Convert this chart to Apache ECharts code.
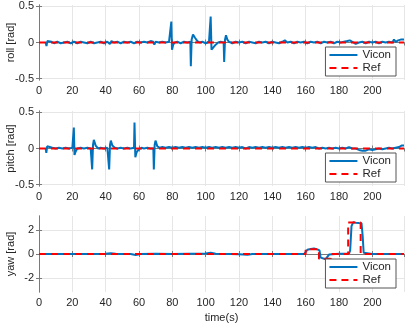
<!DOCTYPE html>
<html>
<head>
<meta charset="utf-8">
<script src="https://cdn.jsdelivr.net/npm/echarts@6/dist/echarts.min.js"></script>
<style>
  html, body { margin: 0; padding: 0; background: #fff; }
  #chart { width: 407px; height: 326px; }
</style>
</head>
<body>
<div id="chart"></div>
<script>
// time axis
const tMax = 219;
const xTicks = 20;

// roll [rad]
const rollVicon = [
  [4,0],[4.5,-0.05],[5,0.02],[6,0.0],[7.5,0.01],[9,-0.01],[11,0.01],[13,-0.01],[15,0.0],[17,0.01],
  [19,-0.01],[21,0.01],[23,-0.01],[25,0.01],[27,0.0],[29,-0.01],[31,0.01],[33,-0.01],[35,0.0],[37,0.01],
  [39,-0.01],[41,0.01],[42.5,-0.02],[43.5,0.02],[45,0.0],[47,0.01],[49,-0.01],[51,0.01],[53,0.0],[55,0.01],
  [57,-0.01],[59,0.01],[61,0.0],[63,0.01],[65,0.0],[67,0.02],[68.5,0.01],[69.2,-0.03],[70,0.01],[72,0.0],
  [74,0.01],[76,0.0],[78,0.01],[79.1,0.01],[79.4,0.29],[79.8,-0.1],[80.5,-0.03],[81.5,0.0],[83,0.01],[85,-0.01],
  [87,0.01],[89,0.0],[90.8,0.01],[91.1,-0.33],[91.6,0.04],[92.4,0.11],[93.5,0.07],[95,0.02],[96.5,0.0],[98,0.01],
  [100,-0.01],[102,0.01],[102.7,0.0],[103,0.36],[103.5,-0.1],[104.5,-0.07],[106,-0.03],[107.5,0.0],[109,0.01],[110.8,0.0],
  [111.1,-0.27],[111.6,0.04],[112.2,0.1],[113,0.04],[114,0.01],[116,-0.01],[118,0.01],[120,0.0],[122,0.01],[124,-0.01],
  [126,0.01],[128,0.0],[130,-0.01],[132,0.01],[134,0.0],[136,0.01],[138,-0.01],[140,0.01],[142,0.0],[144,-0.01],
  [146,0.01],[147.5,0.03],[149,0.0],[151,0.01],[153,-0.01],[155,0.01],[157,0.0],[159,0.01],[161,-0.01],[163,0.01],
  [165,0.0],[167,0.01],[169,-0.01],[171,0.01],[173,0.0],[175,0.01],[177,-0.01],[179,0.01],[181,0.0],[183,0.01],
  [185,0.02],[186.5,0.03],[188,0.01],[190,-0.02],[192,0.0],[194,0.01],[196,-0.01],[198,0.01],[200,0.0],[202,0.01],
  [204,-0.01],[206,0.01],[208,0.0],[210,0.01],[212,0.0],[213,0.04],[214,0.01],[215.5,0.03],[217,0.04],[219,0.04]
];
const rollRef = [[0,0],[219,0]];

// pitch [rad]
const pitchVicon = [
  [4,0],[4.4,-0.06],[4.9,0.03],[6,0.02],[8,0.01],[10,0.0],[12,0.01],[14,0.0],[16,0.01],[18,0.0],
  [20,0.01],[20.6,0.0],[20.9,0.29],[21.3,-0.09],[22,-0.04],[23,0.0],[25,0.01],[27,0.0],[29,0.01],[31,0.0],
  [31.6,0.0],[31.9,-0.29],[32.4,0.05],[32.9,0.12],[34,0.04],[35.5,0.0],[37,0.01],[39,0.0],[41,0.01],[41.8,0.0],
  [42.1,-0.29],[42.6,0.05],[43.1,0.11],[44,0.04],[45.5,0.01],[47,0.0],[49,0.01],[51,0.0],[53,0.01],[55,0.0],
  [57,0.01],[57.3,0.36],[57.8,-0.12],[58.6,-0.05],[60,-0.01],[61.5,0.01],[63,0.0],[65,0.01],[67,0.0],[68.6,0.0],
  [68.9,-0.29],[69.4,0.05],[69.9,0.11],[71,0.03],[72.5,0.01],[74,0.02],[76,0.01],[78,0.02],[80,0.01],[82,0.02],
  [84,0.01],[86,0.02],[88,0.01],[90,0.02],[92,0.01],[94,0.02],[96,0.01],[98,0.02],[100,0.01],[102,0.02],
  [104,0.01],[106,0.02],[108,0.01],[110,0.02],[112,0.01],[114,0.02],[116,0.01],[118,0.02],[120,0.01],[122,0.02],
  [124,0.0],[126,0.02],[128,0.01],[130,0.02],[132,0.01],[134,0.02],[136,0.01],[138,0.02],[140,0.01],[142,0.02],
  [144,0.01],[146,0.02],[148,0.01],[150,0.02],[152,0.01],[154,0.02],[156,0.01],[158,0.02],[160,0.01],[162,0.02],
  [164,0.01],[166,0.02],[168,0.0],[170,0.01],[172,0.0],[174,0.01],[176,0.0],[178,0.01],[180,0.0],[182,0.01],
  [184,0.0],[186,0.02],[188,0.0],[190,0.0],[192,-0.02],[194,-0.03],[196,-0.03],[198,-0.01],[200,-0.02],[202,-0.01],
  [204,0.0],[206,-0.01],[208,0.0],[210,0.01],[212,0.0],[214,0.01],[216,0.02],[217.5,0.04],[219,0.04]
];
const pitchRef = [[0,0],[219,0]];

// yaw [rad]
const yawVicon = [
  [4,0],[10,0.01],[20,0.0],[30,0.01],[40,0.02],[43,0.06],[46,0.02],[50,0.0],[55,0.0],[58,-0.08],
  [61,0.0],[70,0.02],[80,0.0],[90,0.03],[100,0.05],[103,0.1],[106,0.02],[115,0.0],[120,-0.02],[125,-0.06],
  [128,0.0],[140,0.0],[150,0.0],[159,0.0],[159.8,0.05],[161,0.35],[163,0.42],[165,0.45],[167,0.38],[168.3,0.3],
  [169,-0.3],[170,-0.42],[172,-0.43],[173,-0.3],[174,-0.05],[175,0.0],[180,0.02],[186,0.02],[186.7,0.3],[187.5,2.3],
  [188.5,2.62],[190,2.58],[192,2.56],[193.5,2.55],[194.2,1.5],[194.8,0.1],[195.5,-0.02],[200,0.0],[210,0.0],[219,0.0]
];
const yawRef = [
  [0,0],[160,0],[160,0.4],[168,0.4],[168,-0.4],[175,-0.4],[175,0],[185.5,0],[185.5,2.6],[193,2.6],[193,0],[219,0]
];

const smallTicks = [-0.5, 0, 0.5];
const yawTicks = [-2, 0, 2];
const yawLim = 3.1416;

const FONT = 'Liberation Sans';
const TXT = '#262626';
const BOX = '#7a7a7a';
const GRIDLINE = '#e6e6e6';

const grids = [
  { left: 39, right: 3, top: 5, height: 75, outerBoundsMode: 'none', containLabel: false },
  { left: 39, right: 3, top: 111, height: 75, outerBoundsMode: 'none', containLabel: false },
  { left: 39, right: 3, top: 216, height: 76, outerBoundsMode: 'none', containLabel: false }
];

function bottomAxis(i) {
  return {
    type: 'value', gridIndex: i, min: 0, max: tMax, interval: xTicks,
    axisLine: { show: true, lineStyle: { color: BOX, width: 1 } },
    axisTick: { show: true, inside: true, length: 3, lineStyle: { color: BOX } },
    axisLabel: { color: TXT, fontFamily: FONT, fontSize: 11, margin: 5, showMaxLabel: false },
    splitLine: { show: true, lineStyle: { color: GRIDLINE, width: 1 } },
    name: i === 2 ? 'time(s)' : '',
    nameLocation: 'middle', nameGap: 20, nameMoveOverlap: false,
    nameTextStyle: { color: TXT, fontFamily: FONT, fontSize: 11 }
  };
}
function topAxis(i) {
  return {
    type: 'value', gridIndex: i, position: 'top', min: 0, max: tMax, interval: xTicks,
    axisLine: { show: true, lineStyle: { color: BOX, width: 1 } },
    axisTick: { show: true, inside: true, length: 3, lineStyle: { color: BOX } },
    axisLabel: { show: false }, splitLine: { show: false }
  };
}
function leftAxis(i, name, lim, ticks) {
  return {
    type: 'value', gridIndex: i, min: -lim, max: lim,
    name: name, nameLocation: 'middle', nameGap: 23, nameMoveOverlap: false,
    nameTextStyle: { color: TXT, fontFamily: FONT, fontSize: 11 },
    axisLine: { show: true, lineStyle: { color: BOX, width: 1 } },
    axisTick: { show: true, inside: true, length: 3, customValues: ticks, lineStyle: { color: BOX } },
    axisLabel: { color: TXT, fontFamily: FONT, fontSize: 11, margin: 5, customValues: ticks },
    splitLine: { show: true, lineStyle: { color: GRIDLINE, width: 1 } }
  };
}
function rightAxis(i, lim, ticks) {
  return {
    type: 'value', gridIndex: i, position: 'right', min: -lim, max: lim,
    axisLine: { show: true, lineStyle: { color: BOX, width: 1 } },
    axisTick: { show: true, inside: true, length: 3, customValues: ticks, lineStyle: { color: BOX } },
    axisLabel: { show: false }, splitLine: { show: false }
  };
}

function vicon(i, data) {
  return {
    name: 'Vicon', type: 'line', xAxisIndex: i, yAxisIndex: i, data: data,
    showSymbol: false, symbol: 'none', animation: false,
    lineStyle: { color: '#0072BD', width: 2 }, itemStyle: { color: '#0072BD' }
  };
}
function ref(i, data) {
  return {
    name: 'Ref', type: 'line', xAxisIndex: i, yAxisIndex: i, data: data,
    showSymbol: false, symbol: 'none', animation: false,
    lineStyle: { color: '#FF0000', width: 2, type: [7, 5] }, itemStyle: { color: '#FF0000' }
  };
}
function legendAt(top) {
  return {
    data: ['Vicon', 'Ref'], orient: 'vertical', right: 11, top: top,
    backgroundColor: '#fff', borderColor: '#555', borderWidth: 1,
    padding: [2, 5, 2, 3], itemGap: 1, itemWidth: 28, itemHeight: 14,
    itemStyle: { opacity: 0 },
    textStyle: { color: TXT, fontFamily: FONT, fontSize: 11.5 },
    selectedMode: false
  };
}

const chart = echarts.init(document.getElementById('chart'), null, { renderer: 'canvas' });
chart.setOption({
  backgroundColor: '#fff',
  animation: false,
  grid: grids,
  legend: [legendAt(47), legendAt(153), legendAt(259)],
  xAxis: [bottomAxis(0), bottomAxis(1), bottomAxis(2), topAxis(0), topAxis(1), topAxis(2)],
  yAxis: [
    leftAxis(0, 'roll [rad]', 0.52, smallTicks),
    leftAxis(1, 'pitch [rad]', 0.52, smallTicks),
    leftAxis(2, 'yaw [rad]', yawLim, yawTicks),
    rightAxis(0, 0.52, smallTicks),
    rightAxis(1, 0.52, smallTicks),
    rightAxis(2, yawLim, yawTicks)
  ],
  series: [
    vicon(0, rollVicon), ref(0, rollRef),
    vicon(1, pitchVicon), ref(1, pitchRef),
    vicon(2, yawVicon), ref(2, yawRef)
  ]
});
window.addEventListener('resize', () => chart.resize());
</script>
</body>
</html>
